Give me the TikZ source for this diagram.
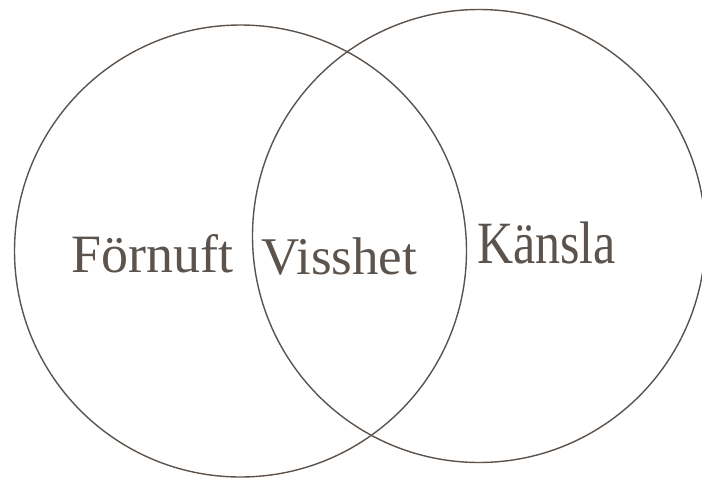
\documentclass[tikz,border=0pt]{standalone}
\usepackage{fontspec}
\setmainfont{Liberation Serif}
\definecolor{venngray}{HTML}{5B534C}

\begin{document}
\begin{tikzpicture}[x=1pt, y=-1pt, every node/.style={text=venngray, inner sep=0pt, anchor=base west}, ring/.style={draw=venngray, line width=1.4pt}]
	\useasboundingbox (0,0) rectangle (702,479);
	\coordinate (Cl) at (240.5,251);
	\coordinate (Cr) at (479,236);
	\draw[ring] (Cl) circle[radius=226];
	\draw[ring] (Cr) circle[radius=226.5];
	\node (fornuft) at (71,272) {\fontsize{54}{54}\selectfont Förnuft};
	\node (visshet) at (261,274) {\fontsize{53}{53}\selectfont Visshet};
	\node[yscale=1.2] (kansla) at (477,263) {\fontsize{50}{50}\selectfont Känsla};
\end{tikzpicture}
\end{document}
